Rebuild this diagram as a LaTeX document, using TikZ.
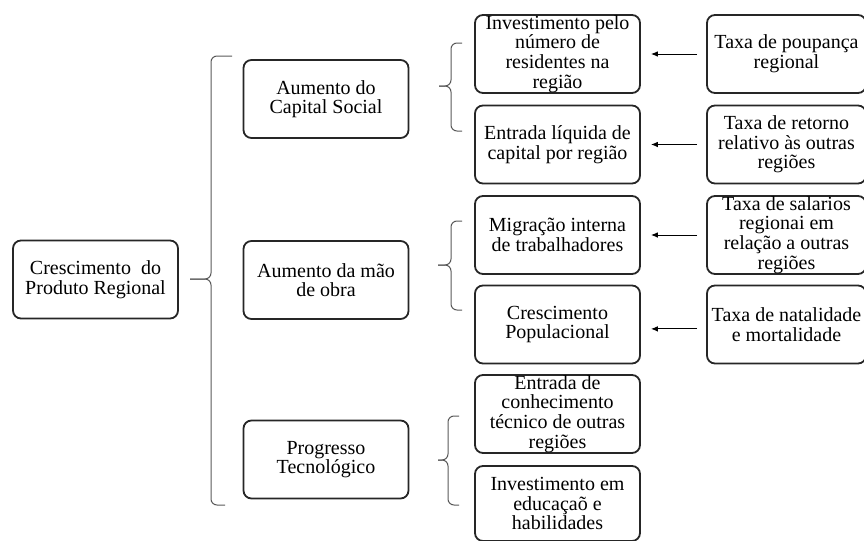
\documentclass[tikz,border=0pt]{standalone}
\usepackage{fontspec}
\setmainfont{Liberation Serif}
\usetikzlibrary{arrows.meta}

\tikzset{
    caixa/.style={draw=black!85, line width=0.9pt, rounded corners=4pt,
        minimum width=82.5pt, minimum height=39pt, inner sep=0pt,
        align=center, font=\fontsize{10}{9.8}\selectfont},
    fator/.style={caixa, minimum width=79.5pt},
    chave/.style={draw=black!65, line width=0.5pt, rounded corners=3pt},
    seta/.style={-{Latex[length=3.5pt,width=2.8pt]}, line width=0.5pt,
        shorten >=5pt, shorten <=4.5pt},
}

\begin{document}
\begin{tikzpicture}[x=0.5pt, y=-0.5pt]
    \useasboundingbox (0,0) rectangle (864,541);

    % Root
    \node[caixa] (crescimento) at (95.5,279.5) {Crescimento\ \ do\\Produto Regional};

    % Second level
    \node[caixa] (capital) at (326,99) {Aumento do\\Capital Social};
    \node[caixa] (maoobra) at (326,280) {Aumento da mão\\de obra};
    \node[caixa] (progresso) at (326,459.5) {Progresso\\Tecnológico};

    % Third level
    \node[caixa] (investimento) at (557.5,54) {Investimento pelo\\número de\\residentes na\\região};
    \node[caixa] (entrada) at (557.5,144.5) {Entrada líquida de\\capital por região};
    \node[caixa] (migracao) at (557.5,235) {Migração interna\\de trabalhadores};
    \node[caixa] (populacao) at (557.5,324.5) {Crescimento\\Populacional};
    \node[caixa] (conhecimento) at (557.5,414) {Entrada de\\conhecimento\\técnico de outras\\regiões};
    \node[caixa, minimum height=37.5pt] (educacao) at (557.5,503.5) {Investimento em\\educaçaõ e\\habilidades};

    % Factors
    \node[fator] (poupanca) at (786.5,54) {Taxa de poupança\\regional};
    \node[fator] (retorno) at (786.5,144.5) {Taxa de retorno\\relativo às outras\\regiões};
    \node[fator] (salarios) at (786.5,235) {Taxa de salarios\\regionai em\\relação a outras\\regiões};
    \node[fator] (natalidade) at (786.5,324.5) {Taxa de natalidade\\e mortalidade};

    % Arrows
    \draw[seta] (poupanca) -- (investimento);
    \draw[seta] (retorno) -- (entrada);
    \draw[seta] (salarios) -- (migracao);
    \draw[seta] ([yshift=-2.2pt]natalidade.west) -- ([yshift=-2.2pt]populacao.east);

    % Braces
    \coordinate (ponta0) at (190,279);
    \coordinate (ponta1) at (439,86);
    \coordinate (ponta2) at (438,265);
    \coordinate (ponta3) at (438,460);

    \draw[chave] (232,56) -- (211,56) -- (211,279) -- (ponta0);
    \draw[chave] (ponta0) -- (211,279) -- (211,505) -- (225,505);

    \draw[chave] (462,43) -- (451,43) -- (451,86) -- (ponta1);
    \draw[chave] (ponta1) -- (451,86) -- (451,131) -- (462,131);

    \draw[chave] (462,221) -- (451,221) -- (451,265) -- (ponta2);
    \draw[chave] (ponta2) -- (451,265) -- (451,310) -- (462,310);

    \draw[chave] (459,416) -- (448,416) -- (448,460) -- (ponta3);
    \draw[chave] (ponta3) -- (448,460) -- (448,505) -- (459,505);

\end{tikzpicture}
\end{document}
